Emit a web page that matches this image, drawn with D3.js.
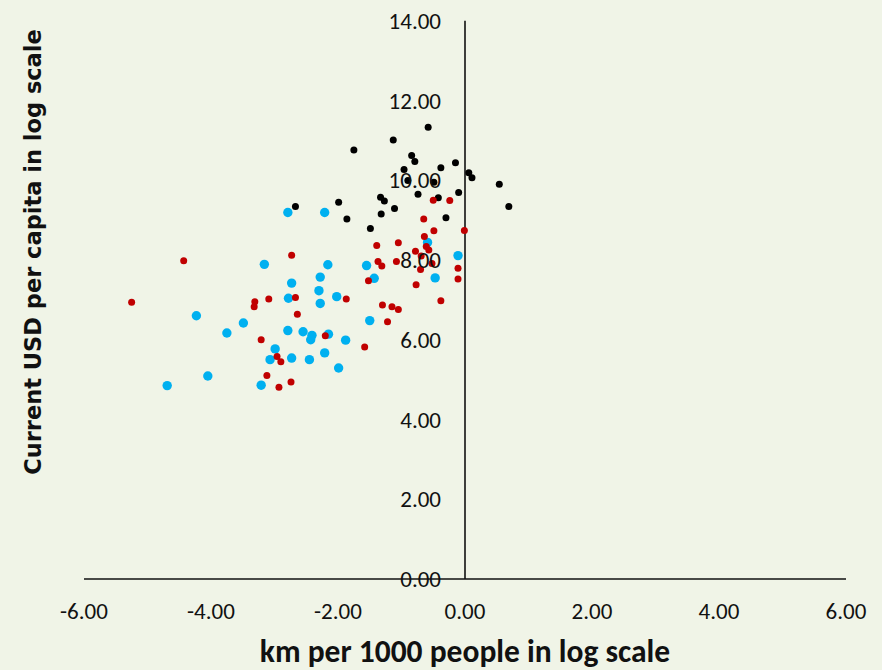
<!DOCTYPE html>
<html><head><meta charset="utf-8">
<script src="https://cdn.jsdelivr.net/npm/d3@7"></script>
<style>
html,body{margin:0;padding:0;background:#F0F4E7;}
svg{display:block;}
</style></head>
<body>
<svg id="chart" width="882" height="670"></svg>
<script>
// Series: [x, y] = [km per 1000 people (log), current USD per capita (log)]
const blackX = [-0.58,-1.13,-1.75,-0.84,-0.79,-0.15,-0.38,-0.96,0.06,0.11,-0.90,-0.49,0.54,-0.10,-0.74,-1.33,-1.27,-0.42,-1.99,0.69,-1.11,-1.32,-0.30,-1.86,-1.49,-2.67];
const blackY = [11.33,11.01,10.76,10.62,10.47,10.44,10.31,10.27,10.19,10.06,9.99,9.95,9.90,9.69,9.65,9.57,9.48,9.56,9.45,9.34,9.29,9.15,9.06,9.03,8.79,9.34];

const redX = [-5.25,-4.43,-3.31,-3.32,-3.09,-2.73,-2.67,-2.64,-3.21,-2.96,-2.90,-3.12,-2.74,-2.93,-2.20,-1.87,-1.58,-1.52,-1.39,-1.37,-1.31,-1.30,-1.15,-1.05,-1.22,-1.05,-1.08,-0.77,-0.70,-0.69,-0.78,-0.61,-0.57,-0.64,-0.65,-0.49,-0.50,-0.24,-0.01,-0.11,-0.11,-0.38,-0.52];
const redY = [6.94,7.98,6.95,6.83,7.02,8.12,7.06,6.64,6.00,5.58,5.45,5.10,4.94,4.81,6.10,7.02,5.82,7.48,8.36,7.96,7.85,6.87,6.83,6.76,6.45,8.43,7.96,7.38,7.76,8.10,8.22,8.34,8.25,8.59,9.03,8.73,9.50,9.49,8.74,7.79,7.52,6.98,7.91];

const cyanX = [-4.69,-4.23,-4.05,-3.75,-3.49,-3.21,-3.16,-3.07,-2.99,-2.79,-2.73,-2.78,-2.79,-2.73,-2.55,-2.41,-2.43,-2.45,-2.21,-2.16,-2.28,-2.30,-2.28,-2.15,-2.21,-2.02,-1.99,-1.88,-1.55,-1.43,-1.50,-0.59,-0.47,-0.11];
const cyanY = [4.85,6.60,5.09,6.17,6.42,4.86,7.89,5.50,5.77,9.19,7.42,7.04,6.23,5.54,6.20,6.11,6.00,5.50,9.19,7.88,7.57,7.23,6.91,6.14,5.67,7.08,5.29,5.99,7.86,7.54,6.48,8.44,7.55,8.11];

const xTicks = [-6,-4,-2,0,2,4,6];
const yTicks = [0,2,4,6,8,10,12,14];
const xTitle = "km per 1000 people in log scale";
const yTitle = "Current USD per capita in log scale";

const svg = d3.select("#chart");
const x = d3.scaleLinear().domain([-6,6]).range([84,846]);
const y = d3.scaleLinear().domain([0,14]).range([579,20.7]);

const tickFont = "Carlito, Calibri, Lato, 'Liberation Sans', sans-serif";
const fmt = d => d3.format(".2f")(d).replace("\u2212","-");

// axis lines
svg.append("line").attr("x1",x(-6)).attr("x2",x(6)).attr("y1",y(0)).attr("y2",y(0))
  .attr("stroke","#111").attr("stroke-width",1.6);
svg.append("line").attr("x1",x(0)).attr("x2",x(0)).attr("y1",y(0)).attr("y2",y(14))
  .attr("stroke","#111").attr("stroke-width",1.6);

// points
function drawSeries(xs, ys, color, r){
  svg.append("g").selectAll("circle").data(xs.map((v,i)=>[v,ys[i]])).join("circle")
    .attr("cx",d=>x(d[0])).attr("cy",d=>y(d[1])).attr("r",r).attr("fill",color);
}
drawSeries(cyanX, cyanY, "#00B0F0", 4.7);
drawSeries(blackX, blackY, "#000000", 3.5);
drawSeries(redX, redY, "#C00000", 3.5);

// y tick labels (drawn over points, like the reference)
svg.append("g").selectAll("text").data(yTicks).join("text")
  .attr("x",441).attr("y",d=>y(d)).attr("dy","0.35em").attr("text-anchor","end")
  .attr("font-family",tickFont).attr("font-size",23).attr("fill","#111")
  .text(fmt);

// x tick labels
svg.append("g").selectAll("text").data(xTicks).join("text")
  .attr("x",d=>x(d)).attr("y",611).attr("dy","0.35em").attr("text-anchor","middle")
  .attr("font-family",tickFont).attr("font-size",23).attr("fill","#111")
  .text(fmt);

// titles
svg.append("text").attr("x",465).attr("y",651).attr("dy","0.35em").attr("text-anchor","middle")
  .attr("font-family",tickFont).attr("font-weight","bold").attr("font-size",31.5).attr("fill","#111")
  .text(xTitle);
svg.append("text").attr("transform","translate(33,252) rotate(-90)").attr("dy","0.35em").attr("text-anchor","middle")
  .attr("font-family","Verdana, 'DejaVu Sans', sans-serif").attr("font-weight","bold").attr("font-size",22.5).attr("fill","#111")
  .text(yTitle);
</script>
</body></html>
